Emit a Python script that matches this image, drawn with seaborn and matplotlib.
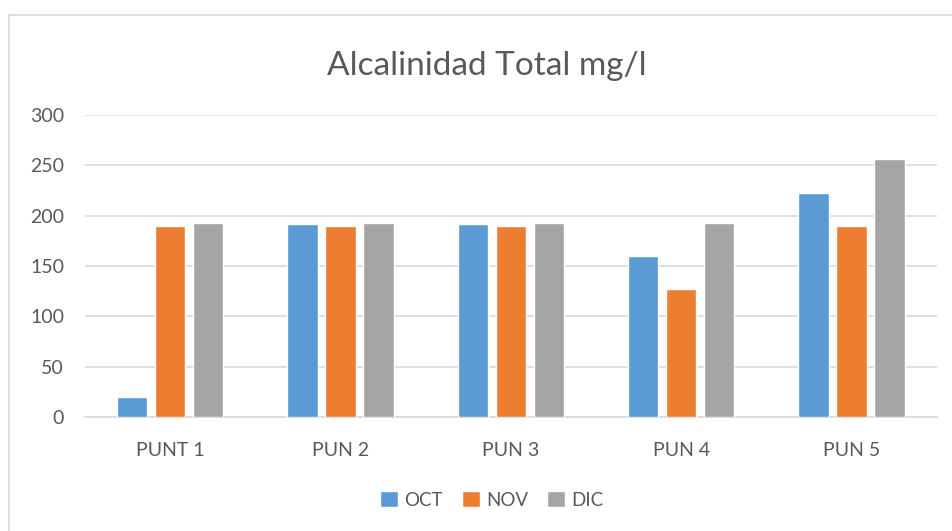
import pandas as pd
import matplotlib.pyplot as plt
import seaborn as sns
from matplotlib.lines import Line2D

# --- data ---
puntos = ["PUNT 1", "PUN 2", "PUN 3", "PUN 4", "PUN 5"]
meses = ["OCT", "NOV", "DIC"]
oct_vals = [20, 192, 192, 160, 223]
nov_vals = [190, 190, 190, 127, 190]
dic_vals = [193, 193, 193, 193, 256]
y_ticks = [0, 50, 100, 150, 200, 250, 300]

colores = {"OCT": "#5B9BD5", "NOV": "#ED7D31", "DIC": "#A5A5A5"}
gris_texto = "#595959"

df = pd.DataFrame({
    "punto": puntos * 3,
    "mes": ["OCT"] * 5 + ["NOV"] * 5 + ["DIC"] * 5,
    "valor": oct_vals + nov_vals + dic_vals,
})

sns.set_theme(style="white")
plt.rcParams["font.family"] = ["Lato", "DejaVu Sans"]

fig = plt.figure(figsize=(9.53, 5.31), dpi=100)
ax = fig.add_axes([0.089, 0.215, 0.894, 0.568])

# outer chart border (top and left edges only are visible)
top_y = 1 - 15 / 531
left_x = 9 / 953
fig.lines.append(Line2D([left_x, 1], [top_y, top_y], transform=fig.transFigure,
                        color="#D9D9D9", linewidth=1.2))
fig.lines.append(Line2D([left_x, left_x], [0, top_y], transform=fig.transFigure,
                        color="#D9D9D9", linewidth=1.2))

sns.barplot(data=df, x="punto", y="valor", hue="mes", hue_order=meses,
            palette=colores, width=0.67, gap=0.2, saturation=1,
            order=puntos, ax=ax, legend=True, zorder=3)

ax.set_ylim(0, 300)
ax.set_yticks(y_ticks)
ax.set_xlim(-0.5, len(puntos) - 0.5)
ax.yaxis.grid(True, color="#D9D9D9", linewidth=1.2, zorder=0)
ax.set_axisbelow(True)
for s in ["top", "right", "left"]:
    ax.spines[s].set_visible(False)
ax.spines["bottom"].set_color("#D9D9D9")
ax.spines["bottom"].set_linewidth(1.2)

ax.tick_params(axis="both", length=0, labelsize=14, labelcolor=gris_texto)
ax.tick_params(axis="y", pad=15)
ax.tick_params(axis="x", pad=18)
ax.set_xlabel("")
ax.set_ylabel("")

fig.text(487 / 953, 1 - 66 / 531, "Alcalinidad Total mg/l", fontsize=24,
         color=gris_texto, ha="center", va="center")

leg_x = (492 - 85) / (937 - 85)
leg_y = (1 - 500 / 531 - 0.215) / 0.568
ax.legend(loc="center", bbox_to_anchor=(leg_x, leg_y),
          bbox_transform=ax.transAxes, ncol=3, frameon=False,
          fontsize=13.5, labelcolor=gris_texto, handlelength=0.95, handleheight=0.95,
          handletextpad=0.35, columnspacing=1.0)

fig.savefig("out.png", dpi=100)
